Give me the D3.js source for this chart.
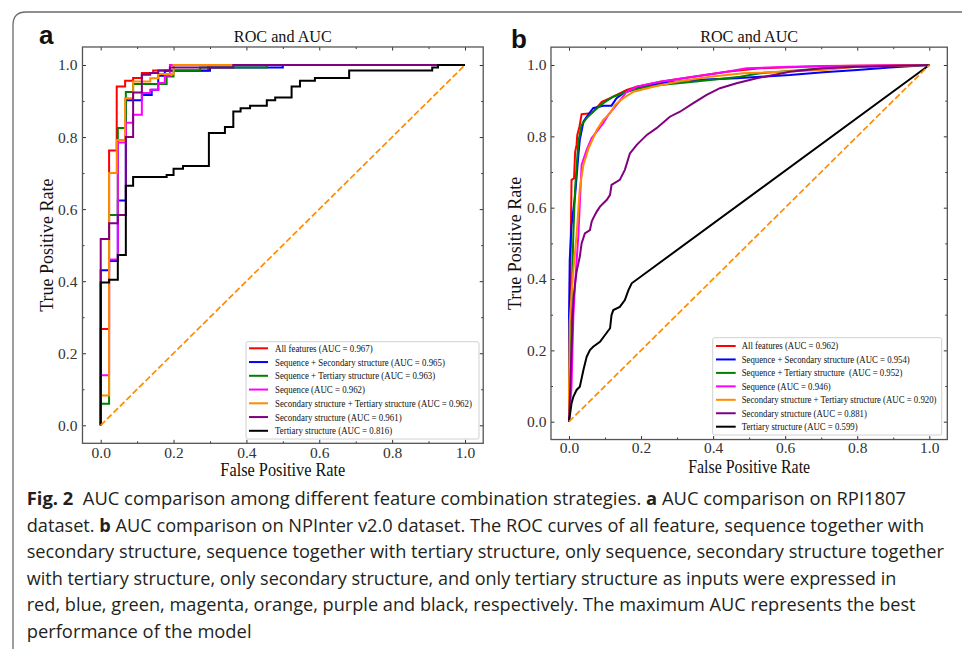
<!DOCTYPE html>
<html><head><meta charset="utf-8">
<script src="https://cdn.jsdelivr.net/npm/d3@7"></script>
<style>body{margin:0;background:#fff}svg{display:block}text{white-space:pre}</style>
</head><body><svg id="chart" width="962" height="649"></svg>
<script>
// ---------------- DATA ----------------
const majorTicks = [0, 0.2, 0.4, 0.6, 0.8, 1.0];
const minorTicks = [0.1, 0.3, 0.5, 0.7, 0.9];
const seriesColors = ["#ff0000", "#0000ff", "#008000", "#ff00ff", "#ff8c00", "#800080", "#000000"];
const diagonal = [[0, 0], [1, 1]];
const panelTitle = "ROC and AUC";
const xLabel = "False Positive Rate";
const yLabel = "True Positive Rate";

const labelsA = [
  "All features (AUC = 0.967)",
  "Sequence + Secondary structure (AUC = 0.965)",
  "Sequence + Tertiary structure (AUC = 0.963)",
  "Sequence (AUC = 0.962)",
  "Secondary structure + Tertiary structure (AUC = 0.962)",
  "Secondary structure (AUC = 0.961)",
  "Tertiary structure (AUC = 0.816)"
];
const labelsB = [
  "All features (AUC = 0.962)",
  "Sequence + Secondary structure (AUC = 0.954)",
  "Sequence + Tertiary structure  (AUC = 0.952)",
  "Sequence (AUC = 0.946)",
  "Secondary structure + Tertiary structure (AUC = 0.920)",
  "Secondary structure (AUC = 0.881)",
  "Tertiary structure (AUC = 0.599)"
];

// Panel a (RPI1807) ROC points [FPR, TPR]
const aAllFeatures = [[0,0],[0,0.267],[0.023,0.267],[0.023,0.763],[0.044,0.763],[0.044,0.94],[0.067,0.94],[0.067,0.956],[0.089,0.956],[0.089,0.964],[0.113,0.964],[0.113,0.978],[0.144,0.978],[0.144,0.985],[0.295,0.985],[0.295,1],[1,1]];
const aSeqSec = [[0,0],[0,0.43],[0.023,0.43],[0.023,0.456],[0.047,0.456],[0.047,0.624],[0.069,0.624],[0.069,0.902],[0.113,0.902],[0.113,0.917],[0.14,0.917],[0.14,0.931],[0.158,0.931],[0.158,0.97],[0.176,0.97],[0.176,0.984],[0.3,0.984],[0.3,0.993],[0.5,0.993],[0.5,1],[1,1]];
const aSeqTer = [[0,0],[0,0.06],[0.023,0.06],[0.023,0.584],[0.047,0.584],[0.047,0.825],[0.069,0.825],[0.069,0.925],[0.089,0.925],[0.089,0.947],[0.181,0.947],[0.181,0.968],[0.2,0.968],[0.2,0.985],[0.273,0.985],[0.273,0.993],[0.456,0.993],[0.456,1],[1,1]];
const aSeq = [[0,0],[0,0.139],[0.023,0.139],[0.023,0.46],[0.047,0.46],[0.047,0.785],[0.069,0.785],[0.069,0.84],[0.089,0.84],[0.089,0.862],[0.113,0.862],[0.113,0.922],[0.136,0.922],[0.136,0.931],[0.158,0.931],[0.158,0.95],[0.176,0.95],[0.176,0.97],[0.19,0.97],[0.19,1],[1,1]];
const aSecTer = [[0,0],[0,0.083],[0.023,0.083],[0.023,0.70],[0.044,0.70],[0.044,0.792],[0.067,0.792],[0.067,0.908],[0.089,0.908],[0.089,0.954],[0.136,0.954],[0.136,0.963],[0.158,0.963],[0.158,0.975],[0.2,0.975],[0.2,1],[1,1]];
const aSec = [[0,0],[0,0.517],[0.023,0.517],[0.023,0.561],[0.047,0.561],[0.047,0.584],[0.069,0.584],[0.069,0.80],[0.089,0.80],[0.089,0.924],[0.113,0.924],[0.113,0.973],[0.136,0.973],[0.136,0.978],[0.158,0.978],[0.158,0.985],[0.19,0.985],[0.19,0.993],[0.364,0.993],[0.364,1],[1,1]];
const aTer = [[0,0],[0,0.396],[0.023,0.396],[0.023,0.404],[0.047,0.404],[0.047,0.473],[0.069,0.473],[0.069,0.665],[0.089,0.665],[0.089,0.689],[0.181,0.689],[0.181,0.695],[0.2,0.695],[0.2,0.712],[0.226,0.712],[0.226,0.72],[0.297,0.72],[0.297,0.811],[0.341,0.811],[0.341,0.828],[0.364,0.828],[0.364,0.871],[0.384,0.871],[0.384,0.88],[0.41,0.88],[0.41,0.887],[0.456,0.887],[0.456,0.902],[0.479,0.902],[0.479,0.91],[0.524,0.91],[0.524,0.94],[0.547,0.94],[0.547,0.956],[0.588,0.956],[0.588,0.964],[0.682,0.964],[0.682,0.985],[0.91,0.985],[0.91,0.993],[0.926,0.993],[0.926,1],[1,1]];

// Panel b (NPInter v2.0) ROC points [FPR, TPR]
const bAllFeatures = [[0,0],[0.002,0.3],[0.005,0.52],[0.007,0.678],[0.014,0.682],[0.017,0.756],[0.021,0.776],[0.023,0.804],[0.029,0.827],[0.035,0.862],[0.063,0.865],[0.07,0.872],[0.091,0.897],[0.114,0.907],[0.16,0.93],[0.188,0.939],[0.253,0.953],[0.345,0.967],[0.438,0.981],[0.53,0.991],[0.706,0.997],[1,1]];
const bSeqSec = [[0,0],[0,0.29],[0.002,0.453],[0.007,0.55],[0.017,0.635],[0.026,0.748],[0.03,0.79],[0.04,0.841],[0.049,0.855],[0.067,0.879],[0.095,0.886],[0.118,0.886],[0.132,0.907],[0.151,0.921],[0.188,0.935],[0.253,0.949],[0.345,0.958],[0.465,0.963],[0.613,0.972],[0.706,0.98],[0.8,0.986],[0.89,0.993],[1,1]];
const bSeqTer = [[0,0],[0.005,0.25],[0.01,0.45],[0.012,0.523],[0.017,0.655],[0.026,0.785],[0.035,0.832],[0.049,0.851],[0.067,0.869],[0.095,0.893],[0.123,0.911],[0.16,0.925],[0.206,0.937],[0.253,0.944],[0.345,0.953],[0.438,0.963],[0.475,0.967],[0.53,0.977],[0.586,0.981],[0.706,0.991],[0.8,0.995],[1,1]];
const bSeq = [[0,0],[0.007,0.098],[0.012,0.294],[0.017,0.388],[0.026,0.523],[0.035,0.72],[0.049,0.762],[0.063,0.795],[0.077,0.813],[0.095,0.837],[0.109,0.86],[0.132,0.888],[0.16,0.925],[0.188,0.939],[0.253,0.953],[0.345,0.967],[0.438,0.981],[0.493,0.991],[0.613,0.995],[0.8,0.998],[1,1]];
const bSecTer = [[0,0],[0,0.09],[0.002,0.28],[0.01,0.4],[0.021,0.523],[0.03,0.654],[0.04,0.72],[0.054,0.766],[0.067,0.795],[0.077,0.818],[0.095,0.846],[0.114,0.865],[0.128,0.888],[0.151,0.907],[0.179,0.925],[0.234,0.939],[0.299,0.953],[0.391,0.967],[0.484,0.977],[0.706,0.986],[0.8,0.995],[1,1]];
const bSec = [[0,0],[0.003,0.08],[0.007,0.2],[0.012,0.341],[0.017,0.388],[0.021,0.42],[0.03,0.463],[0.035,0.5],[0.044,0.528],[0.058,0.537],[0.063,0.561],[0.067,0.57],[0.077,0.589],[0.086,0.603],[0.105,0.622],[0.114,0.636],[0.118,0.664],[0.141,0.678],[0.155,0.706],[0.169,0.752],[0.188,0.776],[0.216,0.804],[0.243,0.823],[0.28,0.855],[0.308,0.869],[0.345,0.893],[0.382,0.916],[0.419,0.935],[0.465,0.949],[0.521,0.963],[0.613,0.981],[0.706,0.991],[0.8,0.995],[1,1]];
const bTer = [[0,0],[0.007,0.051],[0.012,0.07],[0.021,0.089],[0.03,0.098],[0.04,0.145],[0.049,0.182],[0.058,0.201],[0.067,0.21],[0.086,0.224],[0.1,0.243],[0.114,0.262],[0.118,0.299],[0.123,0.313],[0.141,0.322],[0.155,0.341],[0.165,0.369],[0.174,0.388],[1,1]];

const captionLines = [
  [["Fig. 2", true], ["  AUC comparison among different feature combination strategies. ", false], ["a", true], [" AUC comparison on RPI1807", false]],
  [["dataset. ", false], ["b", true], [" AUC comparison on NPInter v2.0 dataset. The ROC curves of all feature, sequence together with", false]],
  [["secondary structure, sequence together with tertiary structure, only sequence, secondary structure together", false]],
  [["with tertiary structure, only secondary structure, and only tertiary structure as inputs were expressed in", false]],
  [["red, blue, green, magenta, orange, purple and black, respectively. The maximum AUC represents the best", false]],
  [["performance of the model", false]]
];
const captionWidths = [880, 898, 918, 870, 889, 225];

// ---------------- DRAW ----------------
const svg = d3.select("#chart");
const SERIF = "'Liberation Serif','Times New Roman',serif";

svg.append("path")
  .attr("d", "M13,649 L13,25 Q13,12 26,12 L962,12")
  .attr("fill", "none").attr("stroke", "#6b6b6b").attr("stroke-width", 1.3);

function fit(sel, width) {
  sel.each(function() {
    const n = this.getComputedTextLength();
    if (n > 0) d3.select(this).attr("textLength", width).attr("lengthAdjust", "spacingAndGlyphs");
  });
}

function drawPanel(o) {
  const g = svg.append("g");
  const x = d3.scaleLinear().domain([0, 1]).range([o.x0, o.x1]);
  const y = d3.scaleLinear().domain([0, 1]).range([o.y0, o.y1]);
  const L = x(-0.05), R = x(1.05), T = y(1.05), B = y(-0.05);
  const line = d3.line().x(d => x(d[0])).y(d => y(d[1]));

  o.series.forEach((s, i) => {
    g.append("path").attr("d", line(s)).attr("fill", "none")
      .attr("stroke", seriesColors[i]).attr("stroke-width", 2).attr("stroke-linejoin", "miter");
  });
  g.append("path").attr("d", line(diagonal)).attr("fill", "none")
    .attr("stroke", "#ff8c00").attr("stroke-width", 1.7).attr("stroke-dasharray", "6.3,2.7");

  const style = (ax) => {
    ax.select(".domain").remove();
    ax.attr("color", "#333").attr("font-family", SERIF).attr("font-size", 15.5);
    ax.selectAll("line").attr("stroke-width", 1);
  };
  const fmt = d3.format(".1f");
  g.append("g").attr("transform", `translate(0,${B})`)
    .call(d3.axisBottom(x).tickValues(majorTicks).tickSize(-3.5).tickPadding(o.padB).tickFormat(fmt)).call(style);
  g.append("g").attr("transform", `translate(0,${T})`)
    .call(d3.axisTop(x).tickValues(majorTicks).tickSize(-3.5).tickFormat("")).call(style);
  g.append("g").attr("transform", `translate(${L},0)`)
    .call(d3.axisLeft(y).tickValues(majorTicks).tickSize(-3.5).tickPadding(o.padL).tickFormat(fmt)).call(style);
  g.append("g").attr("transform", `translate(${R},0)`)
    .call(d3.axisRight(y).tickValues(majorTicks).tickSize(-3.5).tickFormat("")).call(style);
  g.append("g").attr("transform", `translate(0,${B})`).call(d3.axisBottom(x).tickValues(minorTicks).tickSize(-2).tickFormat("")).call(style);
  g.append("g").attr("transform", `translate(0,${T})`).call(d3.axisTop(x).tickValues(minorTicks).tickSize(-2).tickFormat("")).call(style);
  g.append("g").attr("transform", `translate(${L},0)`).call(d3.axisLeft(y).tickValues(minorTicks).tickSize(-2).tickFormat("")).call(style);
  g.append("g").attr("transform", `translate(${R},0)`).call(d3.axisRight(y).tickValues(minorTicks).tickSize(-2).tickFormat("")).call(style);

  g.append("rect").attr("x", L).attr("y", T).attr("width", R - L).attr("height", B - T)
    .attr("fill", "none").attr("stroke", "#555").attr("stroke-width", 1.3);

  // legend
  const lg = g.append("g");
  lg.append("rect").attr("x", o.legX).attr("y", o.legY).attr("width", o.legW).attr("height", o.legH)
    .attr("rx", 2).attr("fill", "#fff").attr("fill-opacity", 0.8).attr("stroke", "#d0d0d0").attr("stroke-width", 1);
  const texts = [];
  o.labels.forEach((lab, i) => {
    const cy = o.legY + o.legFirst + i * o.legStep;
    lg.append("line").attr("x1", o.legX + o.hx0).attr("x2", o.legX + o.hx1).attr("y1", cy).attr("y2", cy)
      .attr("stroke", seriesColors[i]).attr("stroke-width", 2);
    const t = lg.append("text").attr("x", 0).attr("y", 0).attr("dy", "0.33em")
      .attr("font-family", SERIF).attr("font-size", 10.5).attr("fill", "#111").text(lab);
    texts.push({t, cy});
  });
  const nat = texts.map(d => d.t.node().getComputedTextLength());
  const k = o.legTextW / d3.max(nat);
  texts.forEach(d => d.t.attr("transform", `translate(${o.legX + o.tx},${d.cy}) scale(${k},1)`));

  const cx = (L + R) / 2;
  g.append("text").attr("x", cx).attr("y", o.titleY).attr("text-anchor", "middle")
    .attr("font-family", SERIF).attr("font-size", 17.5).attr("fill", "#111").text(panelTitle).call(fit, 98);
  g.append("text").attr("x", cx).attr("y", o.xlabY).attr("text-anchor", "middle")
    .attr("font-family", SERIF).attr("font-size", 18).attr("fill", "#111").text(xLabel).call(fit, o.xlabW);
  g.append("text").attr("transform", `translate(${o.ylabX},${(T + B) / 2}) rotate(-90)`).attr("text-anchor", "middle")
    .attr("dy", "0.35em").attr("font-family", SERIF).attr("font-size", 18).attr("fill", "#111").text(yLabel);
  g.append("text").attr("x", o.letterX).attr("y", o.letterY)
    .attr("font-family", "'Liberation Sans',Arial,sans-serif").attr("font-weight", "bold")
    .attr("font-size", 26).attr("fill", "#111").text(o.letter);
}

drawPanel({
  x0: 100.7, x1: 465, y0: 425.3, y1: 65, padB: 3.5, padL: 5,
  series: [aAllFeatures, aSeqSec, aSeqTer, aSeq, aSecTer, aSec, aTer], labels: labelsA,
  legX: 246, legY: 341.7, legW: 233, legH: 97.3, legFirst: 6.6, legStep: 13.75, hx0: 3, hx1: 22, tx: 29, legTextW: 197,
  titleY: 41.5, xlabY: 475.5, xlabW: 125, ylabX: 46.5, letter: "a", letterX: 39, letterY: 44
});
drawPanel({
  x0: 569, x1: 929.3, y0: 421.7, y1: 65, padB: 2.3, padL: 4.5,
  series: [bAllFeatures, bSeqSec, bSeqTer, bSeq, bSecTer, bSec, bTer], labels: labelsB,
  legX: 712.7, legY: 337.7, legW: 229, legH: 97.3, legFirst: 8.3, legStep: 13.45, hx0: 3.3, hx1: 23, tx: 29, legTextW: 195,
  titleY: 42, xlabY: 472.5, xlabW: 122, ylabX: 515, letter: "b", letterX: 511, letterY: 48
});

// caption
const capBase = 505, capStep = 26.5, capX = 26.7;
captionLines.forEach((parts, i) => {
  const t = svg.append("text").attr("x", 0).attr("y", 0)
    .attr("font-family", "'Open Sans','Noto Sans',sans-serif").attr("font-size", 18.5).attr("fill", "#231f20");
  parts.forEach(p => t.append("tspan").attr("font-weight", p[1] ? "bold" : "normal").text(p[0]));
  const w = t.node().getComputedTextLength();
  const s = captionWidths[i] / w;
  t.attr("transform", `translate(${capX},${capBase + i * capStep}) scale(${s},1)`);
});
</script></body></html>
